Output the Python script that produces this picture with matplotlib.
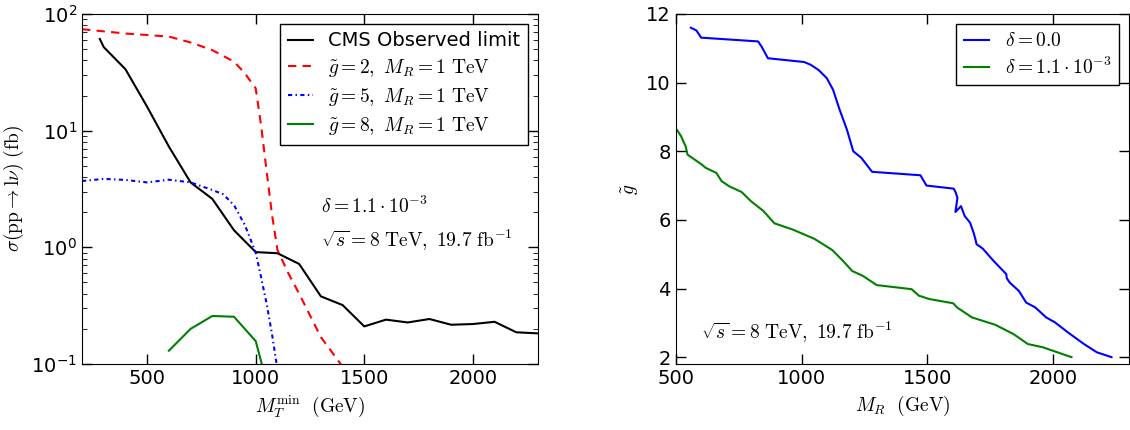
import numpy as np
import matplotlib
matplotlib.use("Agg")
import matplotlib.pyplot as plt
from matplotlib.ticker import FuncFormatter, LogLocator

plt.rcParams["mathtext.fontset"] = "cm"
plt.rcParams["font.family"] = "DejaVu Sans"
plt.rcParams["xtick.direction"] = "in"
plt.rcParams["ytick.direction"] = "in"
plt.rcParams["xtick.top"] = True
plt.rcParams["ytick.right"] = True

# left panel: cross section vs M_T^min (fb)
cms_x = [282, 300, 400, 500, 600, 700, 800, 900, 1000, 1100, 1200, 1300, 1400,
         1500, 1600, 1700, 1800, 1900, 2000, 2100, 2200, 2300]
cms_y = [61, 52, 33.6, 16, 7.3, 3.6, 2.6, 1.4, 0.91, 0.89, 0.72, 0.38, 0.32,
         0.21, 0.24, 0.227, 0.243, 0.217, 0.22, 0.23, 0.187, 0.183]

g2_x = [200, 300, 400, 500, 600, 700, 800, 900, 950, 1000, 1025, 1050, 1075,
        1100, 1150, 1200, 1300, 1400]
g2_y = [74, 71, 68, 66, 64, 57, 49, 39, 31, 23, 11, 4.5, 1.9, 0.95, 0.6, 0.4,
        0.17, 0.095]

g5_x = [200, 300, 400, 500, 600, 700, 800, 850, 900, 950, 1000, 1025, 1050,
        1075, 1100]
g5_y = [3.7, 3.86, 3.78, 3.6, 3.8, 3.6, 3.1, 2.85, 2.3, 1.55, 0.9, 0.55, 0.33,
        0.18, 0.09]

g8_x = [600, 700, 800, 900, 1000, 1050]
g8_y = [0.13, 0.2, 0.258, 0.254, 0.157, 0.07]

# right panel: excluded coupling vs M_R
d0_x = [560, 582, 601, 827, 841, 866, 1010, 1036, 1067, 1100, 1125, 1151, 1180,
        1205, 1237, 1280, 1472, 1496, 1604, 1612, 1619, 1611, 1633, 1648, 1669,
        1683, 1690, 1695, 1720, 1763, 1813, 1815, 1827, 1863, 1892, 1928, 1971,
        2007, 2058, 2122, 2173, 2231]
d0_y = [11.60, 11.52, 11.31, 11.2, 11.05, 10.71, 10.60, 10.52, 10.37, 10.13,
        9.79, 9.21, 8.63, 8.0, 7.81, 7.40, 7.30, 7.0, 6.91, 6.80, 6.64, 6.23,
        6.40, 6.11, 5.92, 5.63, 5.45, 5.29, 5.16, 4.80, 4.42, 4.30, 4.17, 3.93,
        3.59, 3.45, 3.16, 3.01, 2.72, 2.38, 2.14, 2.0]

d11_x = [506, 521, 539, 547, 604, 618, 661, 682, 712, 762, 798, 848, 892, 964,
         1050, 1122, 1165, 1201, 1243, 1298, 1437, 1466, 1509, 1602, 1617, 1662,
         1676, 1770, 1842, 1899, 1957, 2072]
d11_y = [8.61, 8.44, 8.15, 7.90, 7.61, 7.52, 7.37, 7.13, 6.98, 6.81, 6.55, 6.26,
         5.90, 5.72, 5.45, 5.12, 4.80, 4.51, 4.37, 4.10, 3.98, 3.79, 3.69, 3.57,
         3.45, 3.23, 3.16, 2.94, 2.67, 2.38, 2.29, 2.0]

fig = plt.figure(figsize=(11.3, 4.3), dpi=100)
ax1 = fig.add_axes([0.0726, 0.1535, 0.4035, 0.814])
ax2 = fig.add_axes([0.598, 0.1535, 0.401, 0.814])

lw = 1.5
ax1.plot(cms_x, cms_y, "-", color="k", lw=lw, label="CMS Observed limit")
ax1.plot(g2_x, g2_y, "--", color="r", lw=lw, dashes=(4, 3),
         label=r"$\tilde{g}=2,\ M_R=1\ \mathrm{TeV}$")
ax1.plot(g5_x, g5_y, color="b", lw=lw, linestyle=(0, (2, 1.6, 0.7, 1.6)),
         label=r"$\tilde{g}=5,\ M_R=1\ \mathrm{TeV}$")
ax1.plot(g8_x, g8_y, "-", color="green", lw=lw,
         label=r"$\tilde{g}=8,\ M_R=1\ \mathrm{TeV}$")
ax1.set_yscale("log")
ax1.set_xlim(200, 2300)
ax1.set_ylim(0.1, 100)
ax1.set_xticks([500, 1000, 1500, 2000])
ax1.yaxis.set_major_locator(LogLocator(base=10))
ax1.yaxis.set_major_formatter(FuncFormatter(
    lambda v, p: r"$\mathdefault{10^{%d}}$" % round(np.log10(v))))
ax1.tick_params(labelsize=14, length=7, width=1)
ax1.tick_params(which="minor", length=3.5)
ax1.set_xlabel(r"$M_T^{\mathrm{min}}\ \ (\mathrm{GeV})$", fontsize=14)
ax1.set_ylabel(r"$\sigma(\mathrm{pp}\rightarrow\mathrm{l}\nu)\ (\mathrm{fb})$",
               fontsize=14)
ax1.text(1300, 2.25, r"$\delta=1.1\cdot10^{-3}$", fontsize=14, va="center")
ax1.text(1300, 1.15, r"$\sqrt{s}=8\ \mathrm{TeV},\ 19.7\ \mathrm{fb}^{-1}$",
         fontsize=14, va="center")
leg1 = ax1.legend(loc="upper right", fontsize=14, handlelength=1.3,
                  handletextpad=0.8, fancybox=False, framealpha=1,
                  borderaxespad=0.5, labelspacing=0.35)
leg1.get_frame().set_edgecolor("k")

ax2.plot(d0_x, d0_y, "-", color="b", lw=lw, label=r"$\delta=0.0$")
ax2.plot(d11_x, d11_y, "-", color="green", lw=lw,
         label=r"$\delta=1.1\cdot10^{-3}$")
ax2.set_xlim(500, 2300)
ax2.set_ylim(1.8, 12)
ax2.set_xticks([500, 1000, 1500, 2000])
ax2.set_yticks([2, 4, 6, 8, 10, 12])
ax2.tick_params(labelsize=14, length=7, width=1)
ax2.set_xlabel(r"$M_R\ \ (\mathrm{GeV})$", fontsize=14)
ax2.set_ylabel(r"$\tilde{g}$", fontsize=14)
ax2.text(600, 2.72, r"$\sqrt{s}=8\ \mathrm{TeV},\ 19.7\ \mathrm{fb}^{-1}$",
         fontsize=14, va="center")
leg2 = ax2.legend(loc="upper right", fontsize=14, handlelength=1.3,
                  handletextpad=0.8, fancybox=False, framealpha=1,
                  borderaxespad=0.5, labelspacing=0.3)
leg2.get_frame().set_edgecolor("k")

fig.savefig("out.png", dpi=100, facecolor="white")
